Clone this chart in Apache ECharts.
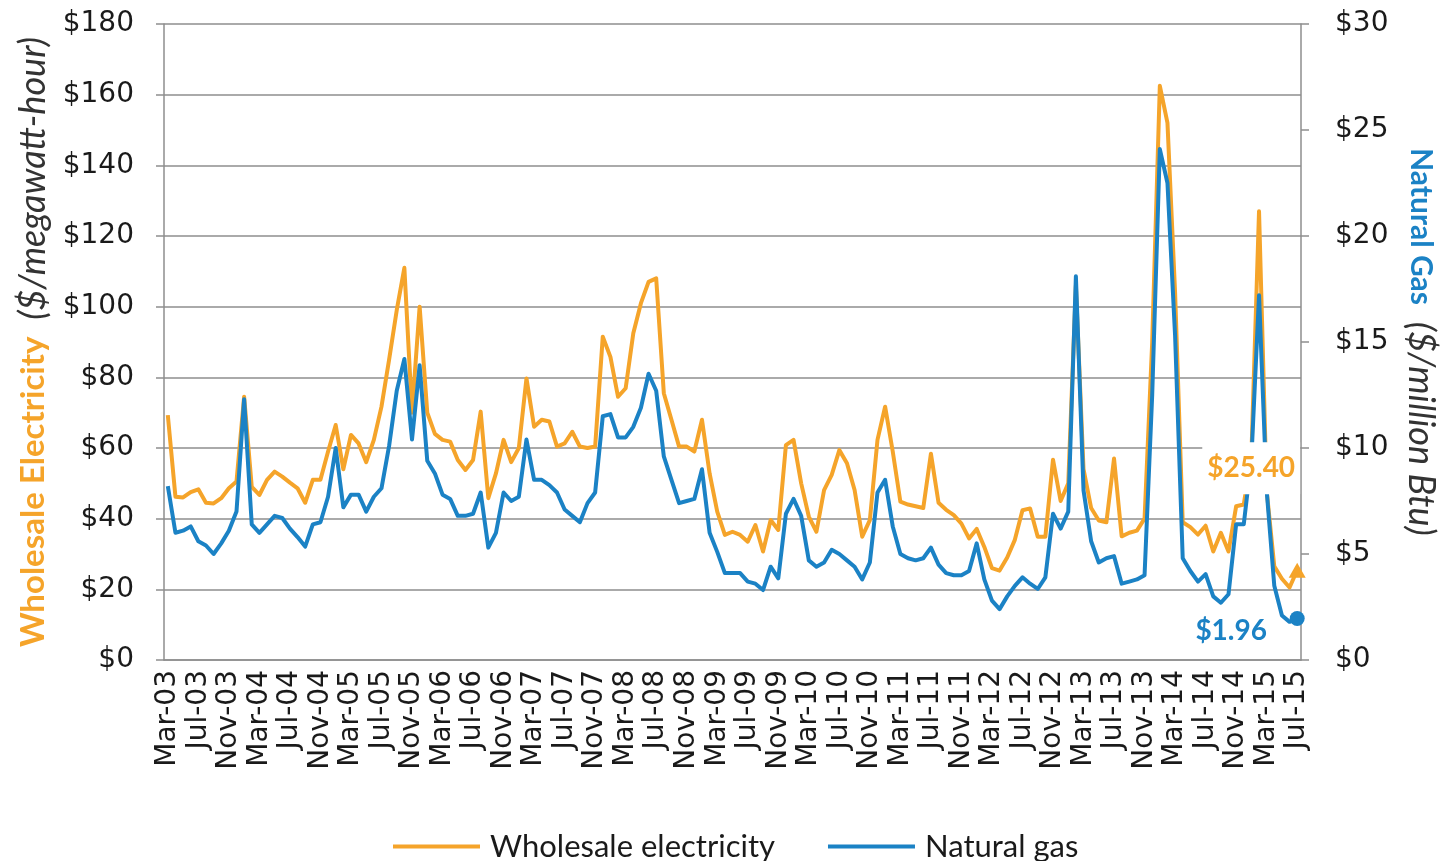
<!DOCTYPE html>
<html>
<head>
<meta charset="utf-8">
<script src="https://cdn.jsdelivr.net/npm/echarts@6/dist/echarts.min.js"></script>
<style>
  html, body { margin: 0; padding: 0; background: #fff; }
  #chart { width: 1447px; height: 861px; }
</style>
</head>
<body>
<div id="chart"></div>
<script>
// categories: monthly, Mar-03 .. Jul-15
const monthNames = ['Jan', 'Feb', 'Mar', 'Apr', 'May', 'Jun', 'Jul', 'Aug', 'Sep', 'Oct', 'Nov', 'Dec'];
const months = [];
for (let y = 2003, m = 2; y < 2015 || m <= 6; m++) {
  if (m > 11) { m = 0; y++; }
  months.push(monthNames[m] + '-' + String(y).slice(2));
}

// wholesale electricity, $/MWh (left axis)
const electricity = [
  69.3, 46.2, 46, 47.5, 48.3, 44.5, 44.3, 45.8, 48.6, 50.5,
  74.5, 49, 46.7, 51, 53.3, 51.9, 50.2, 48.6, 44.5, 51, 51, 59,
  66.5, 54, 63.7, 61.3, 56, 62.3, 71.7, 85, 99, 111, 70, 100,
  70, 64, 62.3, 61.8, 56.6, 53.8, 56.6, 70.3, 45.8, 52.8, 62.3, 56,
  60, 79.7, 66, 68, 67.5, 60.4, 61.3, 64.6, 60.4, 60, 60.4, 91.5,
  85.8, 74.5, 76.9, 92.5, 101, 107, 108, 75.5, 68, 60.4, 60.4, 59,
  68, 52.8, 42, 35.4, 36.3, 35.4, 33.5, 38.2, 30.7, 39.6, 36.8, 60.8,
  62.3, 50, 40.6, 36.3, 48.1, 52.4, 59.4, 55.7, 48.1, 34.9, 39.6, 62.3,
  71.7, 59, 44.8, 44, 43.5, 43, 58.4, 44.5, 42.5, 41, 38.6, 34.4,
  37.1, 32, 26, 25.3, 29, 34, 42.4, 42.9, 34.9, 34.9, 56.7, 45,
  50, 106, 54, 43, 39.5, 39, 57, 35, 36, 36.6, 40, 90,
  162.5, 152, 104, 39, 37.6, 35.5, 38, 30.7, 36, 30.7, 43.5, 44,
  58, 127, 48, 26.5, 23, 20.5, 25.4
];

// natural gas, $/million Btu (right axis)
const naturalGas = [
  8.2, 6.0, 6.1, 6.3, 5.6, 5.4, 5.0, 5.5, 6.1, 7.0,
  12.3, 6.4, 6.0, 6.4, 6.8, 6.7, 6.2, 5.8, 5.35, 6.4, 6.5, 7.7,
  10.0, 7.2, 7.8, 7.8, 7.0, 7.7, 8.1, 10.1, 12.7, 14.2, 10.4, 13.9,
  9.4, 8.8, 7.8, 7.6, 6.8, 6.8, 6.9, 7.9, 5.3, 6.0, 7.9, 7.5,
  7.7, 10.4, 8.5, 8.5, 8.25, 7.9, 7.1, 6.8, 6.5, 7.4, 7.9, 11.5,
  11.6, 10.5, 10.5, 11, 11.9, 13.5, 12.7, 9.6, 8.5, 7.4, 7.5, 7.6,
  9.0, 6.0, 5.1, 4.1, 4.1, 4.1, 3.7, 3.6, 3.3, 4.4, 3.85, 6.9,
  7.6, 6.8, 4.7, 4.4, 4.6, 5.2, 5.0, 4.7, 4.4, 3.8, 4.6, 7.9,
  8.5, 6.3, 5.0, 4.8, 4.7, 4.8, 5.3, 4.5, 4.1, 4.0, 4.0, 4.2,
  5.5, 3.8, 2.8, 2.4, 3.0, 3.5, 3.9, 3.6, 3.35, 3.9, 6.9, 6.2,
  7.0, 18.1, 8.0, 5.6, 4.6, 4.8, 4.9, 3.6, 3.7, 3.8, 4.0, 12.5,
  24.1, 22.5, 15.3, 4.8, 4.2, 3.7, 4.05, 3.0, 2.7, 3.1, 6.4, 6.4,
  9.5, 17.2, 8.0, 3.5, 2.1, 1.8, 1.96
];

const ORANGE = '#F5A42A';
const BLUE = '#1B82C5';
const GRID_GRAY = '#8e8e8e';
const TEXT = '#1a1a1a';

const lastMonth = months[months.length - 1];
const lastElec = electricity[electricity.length - 1];
const lastGas = naturalGas[naturalGas.length - 1];

const chart = echarts.init(document.getElementById('chart'));
chart.setOption({
  animation: false,
  grid: { left: 164, right: 141, top: 24, bottom: 201 },
  legend: {
    left: 388,
    top: 826,
    icon: 'rect',
    itemWidth: 87,
    itemHeight: 4,
    itemGap: 53,
    textStyle: { fontFamily: 'Lato', fontSize: 31, color: TEXT, padding: [0, 0, 0, 5] },
    data: [
      { name: 'Wholesale electricity', itemStyle: { color: ORANGE } },
      { name: 'Natural gas', itemStyle: { color: BLUE } }
    ]
  },
  xAxis: {
    type: 'category',
    data: months,
    boundaryGap: true,
    axisLine: { lineStyle: { color: GRID_GRAY, width: 1.5 } },
    axisTick: { interval: 3, length: 8, lineStyle: { color: GRID_GRAY, width: 1.5 } },
    axisLabel: {
      interval: 3, rotate: 90, margin: 10,
      fontFamily: 'DejaVu Sans', fontSize: 28, color: TEXT
    }
  },
  yAxis: [
    {
      type: 'value', min: 0, max: 180, interval: 20, position: 'left',
      axisLine: { show: true, lineStyle: { color: GRID_GRAY, width: 1.5 } },
      axisTick: { show: true, length: 8, lineStyle: { color: GRID_GRAY, width: 1.5 } },
      splitLine: { lineStyle: { color: GRID_GRAY, width: 1.5 } },
      axisLabel: {
        formatter: v => '$' + v, margin: 30,
        fontFamily: 'DejaVu Sans', fontSize: 28, color: TEXT
      },
      name: '{a|Wholesale Electricity}{b|  ($/megawatt-hour)}',
      nameLocation: 'middle', nameRotate: 90, nameGap: 104,
      nameTextStyle: {
        rich: {
          a: { fontFamily: 'Lato', fontWeight: 'bold', fontSize: 33, color: ORANGE },
          b: { fontFamily: 'Lato', fontStyle: 'italic', fontSize: 36, color: '#333' }
        }
      }
    },
    {
      type: 'value', min: 0, max: 30, interval: 5, position: 'right',
      axisLine: { show: true, lineStyle: { color: GRID_GRAY, width: 1.5 } },
      axisTick: { show: true, length: 8, lineStyle: { color: GRID_GRAY, width: 1.5 } },
      splitLine: { show: false },
      axisLabel: {
        formatter: v => '$' + v, margin: 34,
        fontFamily: 'DejaVu Sans', fontSize: 28, color: TEXT
      },
      name: '{a|Natural Gas}{b|  ($/million Btu)}',
      nameLocation: 'middle', nameRotate: -90, nameGap: 102,
      nameTextStyle: {
        rich: {
          a: { fontFamily: 'Lato', fontWeight: 'bold', fontSize: 30, color: BLUE },
          b: { fontFamily: 'Lato', fontStyle: 'italic', fontSize: 36, color: '#333' }
        }
      }
    }
  ],
  series: [
    {
      name: 'Wholesale electricity',
      type: 'line',
      yAxisIndex: 0,
      data: electricity,
      color: ORANGE,
      symbol: 'none',
      lineStyle: { color: ORANGE, width: 4, join: 'round' },
      markPoint: {
        silent: true,
        symbol: 'triangle',
        symbolSize: [17, 15],
        itemStyle: { color: ORANGE },
        data: [{
          coord: [lastMonth, lastElec],
          label: {
            show: true,
            formatter: '$' + lastElec.toFixed(2),
            offset: [-46, -102],
            fontFamily: 'Lato', fontWeight: 'bold', fontSize: 28, color: ORANGE,
            backgroundColor: '#fff', padding: [12, 5]
          }
        }]
      }
    },
    {
      name: 'Natural gas',
      type: 'line',
      yAxisIndex: 1,
      data: naturalGas,
      color: BLUE,
      symbol: 'none',
      lineStyle: { color: BLUE, width: 4, join: 'round' },
      markPoint: {
        silent: true,
        symbol: 'circle',
        symbolSize: 15,
        itemStyle: { color: BLUE },
        data: [{
          coord: [lastMonth, lastGas],
          label: {
            show: true,
            formatter: '$' + lastGas.toFixed(2),
            offset: [-66, 13],
            fontFamily: 'Lato', fontWeight: 'bold', fontSize: 28, color: BLUE
          }
        }]
      }
    }
  ]
});
</script>
</body>
</html>
